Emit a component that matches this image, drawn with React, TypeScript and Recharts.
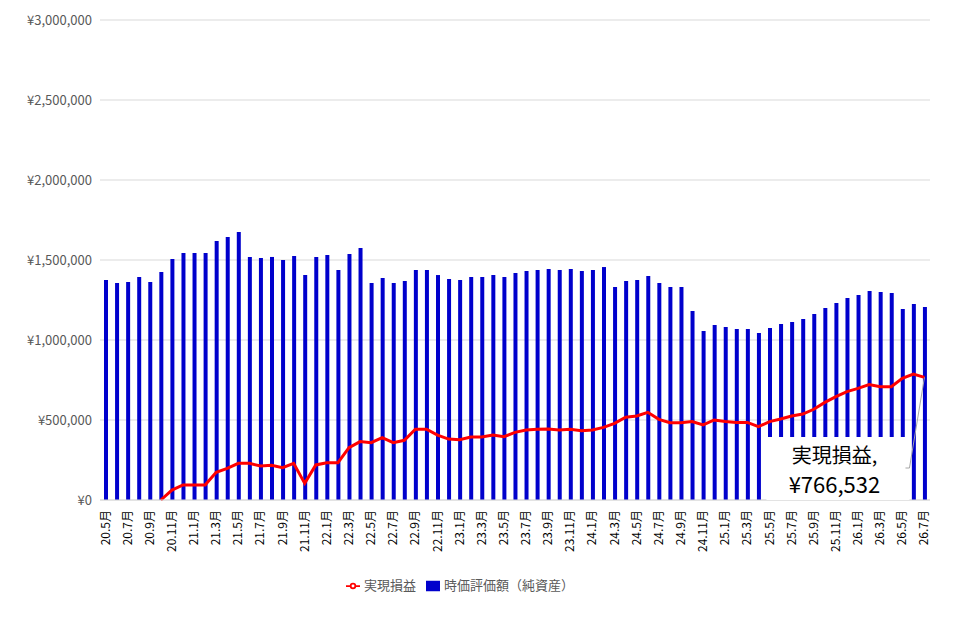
import React from 'react';
import { ComposedChart, Bar, Line, XAxis, YAxis, CartesianGrid, Legend } from 'recharts';

const months: string[] = [];
for (let y = 20; y <= 26; y++) {
  for (let m = 1; m <= 12; m++) {
    if ((y === 20 && m < 5) || (y === 26 && m > 7)) continue;
    months.push(`${y}.${m}月`);
  }
}

const netAssets = [
  1375000, 1356000, 1362000, 1394000, 1362000, 1425000, 1506000, 1544000, 1544000, 1544000,
  1619000, 1644000, 1675000, 1519000, 1512000, 1519000, 1500000, 1525000, 1406000, 1519000,
  1531000, 1437000, 1537000, 1575000, 1356000, 1387000, 1356000, 1369000, 1437000, 1437000,
  1406000, 1381000, 1375000, 1394000, 1394000, 1406000, 1394000, 1419000, 1431000, 1437000,
  1444000, 1437000, 1444000, 1431000, 1437000, 1456000, 1331000, 1369000, 1375000, 1400000,
  1356000, 1331000, 1331000, 1181000, 1056000, 1094000, 1081000, 1069000, 1069000, 1044000,
  1075000, 1100000, 1112000, 1131000, 1162000, 1200000, 1231000, 1262000, 1281000, 1306000,
  1300000, 1294000, 1194000, 1225000, 1206000,
];

const realized: (number | null)[] = [
  null, null, null, null, null, 0, 62000, 94000, 94000, 94000,
  173000, 198000, 229000, 229000, 212000, 217000, 202000, 229000, 104000, 219000,
  233000, 233000, 327000, 365000, 358000, 390000, 358000, 373000, 442000, 442000,
  406000, 381000, 377000, 394000, 394000, 406000, 396000, 423000, 437000, 442000,
  444000, 437000, 442000, 433000, 437000, 454000, 479000, 517000, 525000, 548000,
  504000, 483000, 483000, 490000, 469000, 500000, 490000, 485000, 485000, 458000,
  490000, 506000, 525000, 537000, 567000, 610000, 646000, 677000, 698000, 721000,
  708000, 708000, 760000, 787000, 766532,
];

const yTicks = [0, 500000, 1000000, 1500000, 2000000, 2500000, 3000000];

const data = months.map((m, i) => ({ month: m, net: netAssets[i], real: realized[i] }));

const fmt = (v: number) => '¥' + v.toLocaleString('en-US');

const XTick = (props: any) => {
  const { x, y, payload } = props;
  return (
    <text x={x + 4} y={y + 2} transform={`rotate(-90 ${x + 4} ${y + 2})`} textAnchor="end"
      fontSize={12} fill="#000" fontFamily="'Noto Sans CJK JP', sans-serif">{payload.value}</text>
  );
};

const EndLabel = (props: any) => {
  const { x, y, index } = props;
  if (index !== months.length - 1) return null;
  const bx = x - 158, by = 437;
  return (
    <g>
      <rect x={bx} y={by} width={143} height={63} fill="#fff" />
      <polyline points={`${x},${y} ${x - 15},${by + 31} ${bx + 139},${by + 31}`} fill="none" stroke="#a6a6a6" strokeWidth={1} />
      <text x={bx + 68} y={by + 26} textAnchor="middle" fontSize={20} fill="#000"
        fontFamily="'Noto Sans CJK JP', sans-serif">実現損益,</text>
      <text x={bx + 68} y={by + 56} textAnchor="middle" fontSize={22} fill="#000"
        fontFamily="'Noto Sans CJK JP', sans-serif">¥766,532</text>
    </g>
  );
};

const legendPayload = [
  { value: '時価評価額（純資産）', type: 'rect', color: '#0000CC', id: 'net' },
  { value: '実現損益', type: 'line', color: '#FF0000', id: 'real' },
];

export default function App() {
  return (
    <div style={{ margin: -8, width: 968, height: 619, background: '#fff', fontFamily: "'Noto Sans CJK JP', sans-serif" }}>
      <ComposedChart width={968} height={619} data={data}
        margin={{ top: 20, right: 38, left: 0, bottom: 14 }}>
        <CartesianGrid vertical={false} stroke="#d9d9d9" />
        <XAxis dataKey="month" interval={1} tick={<XTick />} tickLine={false}
          axisLine={{ stroke: '#d9d9d9' }} height={75} />
        <YAxis domain={[0, 3000000]} ticks={yTicks} tickFormatter={fmt} width={100}
          axisLine={false} tickLine={false} tick={{ fontSize: 13, fill: '#595959' }} />
        <Bar dataKey="net" name="時価評価額（純資産）" fill="#0000CC" barSize={4} isAnimationActive={false} />
        <Line dataKey="real" name="実現損益" stroke="#FF0000" strokeWidth={3} dot={false}
          isAnimationActive={false} label={<EndLabel />} />
        <Legend verticalAlign="bottom" height={30} iconSize={14} payload={legendPayload as any}
          wrapperStyle={{ fontSize: 13, color: '#595959', bottom: 14 }}
          formatter={(v: string) => <span style={{ color: '#595959' }}>{v}</span>} />
      </ComposedChart>
    </div>
  );
}
